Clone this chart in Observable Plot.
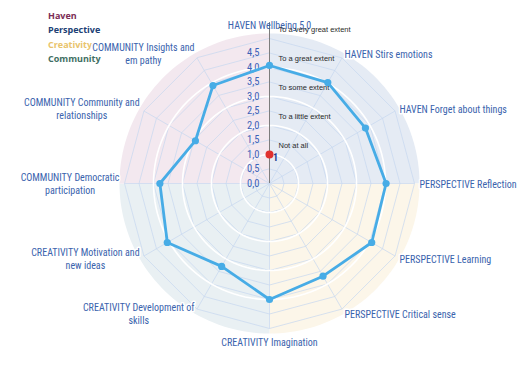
<!DOCTYPE html>
<html><head><meta charset="utf-8">
<script src="https://cdn.jsdelivr.net/npm/d3@7"></script>
<script src="https://cdn.jsdelivr.net/npm/@observablehq/plot@0.6"></script>
<style>
body{margin:0;background:#fff;}
#wrap{position:relative;width:531px;height:375px;overflow:hidden;background:#fff;}
#legend{position:absolute;left:48px;top:9px;font-family:"Open Sans",sans-serif;font-weight:700;font-size:9px;line-height:14.4px;z-index:0;}
#chart{position:absolute;left:0;top:0;z-index:1;}
</style></head><body>
<div id="wrap"><div id="legend"></div><div id="chart"></div></div>
<script>
// ---- data ----
const axisLabels = [
  "HAVEN Wellbeing 5,0",
  "HAVEN Stirs emotions",
  "HAVEN Forget about things",
  "PERSPECTIVE Reflection",
  "PERSPECTIVE Learning",
  "PERSPECTIVE Critical sense",
  "CREATIVITY Imagination",
  "CREATIVITY Development of\nskills",
  "CREATIVITY Motivation and\nnew ideas",
  "COMMUNITY Democratic\nparticipation",
  "COMMUNITY Community and\nrelationships",
  "COMMUNITY Insights and\nem pathy"
];
const scores = [4.07, 4.02, 3.82, 4.02, 4.07, 3.69, 4.0, 3.3, 4.07, 3.78, 2.95, 3.9];
const tickValues = [0, 0.5, 1, 1.5, 2, 2.5, 3, 3.5, 4, 4.5];
const tickLabels = ["0,0", "0,5", "1,0", "1,5", "2,0", "2,5", "3,0", "3,5", "4,0", "4,5"];
const levelNames = ["Not at all", "To a little extent", "To some extent", "To a great extent", "To a very great extent"];
const levelValues = [1, 2, 3, 4, 5];
const markerValue = 1;
const markerLabel = "1";
const legendNames = ["Haven", "Perspective", "Creativity", "Community"];
const legendColors = ["#7b2d55", "#213f75", "#e9c46c", "#3f6f63"];
const quadrantColors = ["#e5ebf4", "#fcf6e9", "#e9f0f3", "#f3e8ef"];

// ---- layout ----
const W = 531, H = 375, CX = 269, CY = 183, U = 29;
const diskR = 150 / U, gridMax = 5, axisTop = 5.55;
const n = axisLabels.length;
const ang = i => i * 2 * Math.PI / n;
const P = (r, a) => ({x: r * Math.sin(a), y: r * Math.cos(a)});

// background quadrants
const quads = quadrantColors.map((c, q) => {
  const pts = [{x: 0, y: 0}];
  for (let k = 0; k <= 45; k++) pts.push(P(diskR, (q * 90 + k * 2) * Math.PI / 180));
  return pts;
});
// gridline polygons
const gridLevels = d3.range(1, 11).map(k => k * gridMax / 10);
const gridPolys = gridLevels.flatMap(l => d3.range(n).map(i => ({l, ...P(l, ang(i))})));
const spokes = d3.range(n).map(i => ({...P(gridMax, ang(i))}));
const circles = [1, 2, 3, 4].flatMap(l => d3.range(0, 121).map(k => ({l, ...P(l, k * 3 * Math.PI / 180)})));
const series = scores.map((v, i) => ({v, ...P(v, ang(i))}));

// labels
const ctx = document.createElement("canvas").getContext("2d");
const labelFont = '"Liberation Sans Narrow", "Roboto Condensed", Roboto, sans-serif';
ctx.font = `10px ${labelFont}`;
const labelData = axisLabels.map((t, i) => {
  const a = ang(i), s = Math.sin(a), c = Math.cos(a);
  const side = Math.abs(s) < 1e-6 ? 0 : Math.sign(s);
  const rPx = side === 0 ? 158 : 150;
  let x = rPx * s / U, y = rPx * c / U;
  let anchor = side === 0 ? "middle" : side > 0 ? "start" : "end";
  const lines = t.split("\n");
  if (side < 0 && lines.length > 1) {
    const w = d3.max(lines, l => ctx.measureText(l).width);
    x -= (w / 2) / U; anchor = "middle";
  }
  return {t, x, y, anchor, i};
});

const marks = [];
quads.forEach((pts, q) => marks.push(Plot.line(pts, {x: "x", y: "y", fill: quadrantColors[q], stroke: "none"})));
marks.push(Plot.line(gridPolys, {x: "x", y: "y", z: "l", curve: "linear-closed", stroke: "#c6d7ef", strokeWidth: 0.7}));
marks.push(Plot.link(spokes, {x1: 0, y1: 0, x2: "x", y2: "y", stroke: "#c6d7ef", strokeWidth: 0.7}));
marks.push(Plot.line(circles, {x: "x", y: "y", z: "l", curve: "linear-closed", stroke: "white", strokeWidth: 1.6}));
marks.push(Plot.ruleX([0], {y1: 0, y2: axisTop, stroke: "#7d7d7d", strokeWidth: 1}));
marks.push(Plot.text(tickValues, {x: 0, y: d => d, text: (d, i) => tickLabels[i], textAnchor: "end", dx: -10, fill: "#3d62b8", fontSize: 10.5, fontFamily: labelFont}));
// axis labels
for (const anchor of ["start", "middle", "end"]) {
  marks.push(Plot.text(labelData.filter(d => d.anchor === anchor && d.i !== 0), {x: "x", y: "y", text: "t", textAnchor: anchor, lineAnchor: "middle", lineHeight: 1.3, fill: "#3a63ad", fontSize: 10, fontFamily: labelFont, stroke: "white", strokeWidth: 3}));
}
marks.push(Plot.text(labelData.filter(d => d.i === 0), {x: "x", y: "y", text: "t", textAnchor: "middle", lineAnchor: "middle", fill: "#3a63ad", fontSize: 10, fontFamily: labelFont}));
// level annotations
marks.push(Plot.text(levelValues, {x: 0, y: d => d + 0.3, text: (d, i) => levelNames[i], textAnchor: "start", dx: 9, fill: "#2a2a2a", fontSize: 7.5, fontFamily: '"Liberation Sans", Arial, sans-serif'}));
// series
marks.push(Plot.line(series, {x: "x", y: "y", curve: "linear-closed", stroke: "#47ace6", strokeWidth: 2.8}));
marks.push(Plot.dot(series, {x: "x", y: "y", r: 3.6, fill: "#47ace6"}));
// marker
marks.push(Plot.dot([markerValue], {x: 0, y: d => d, r: 4, fill: "#e0312f"}));
marks.push(Plot.text([markerValue], {x: 0, y: d => d, text: () => markerLabel, dx: 6, dy: 3, fill: "#1f3f8f", fontSize: 10, fontWeight: "bold", fontFamily: labelFont}));

const chart = Plot.plot({
  width: W, height: H, margin: 0,
  x: {type: "linear", domain: [-CX / U, (W - CX) / U], range: [0, W], axis: null},
  y: {type: "linear", domain: [-(H - CY) / U, CY / U], range: [H, 0], axis: null},
  style: {background: "transparent", overflow: "visible"},
  marks
});
document.getElementById("chart").append(chart);

const leg = document.getElementById("legend");
legendNames.forEach((name, i) => {
  const d = document.createElement("div");
  d.textContent = name; d.style.color = legendColors[i];
  leg.append(d);
});
</script>
</body></html>
